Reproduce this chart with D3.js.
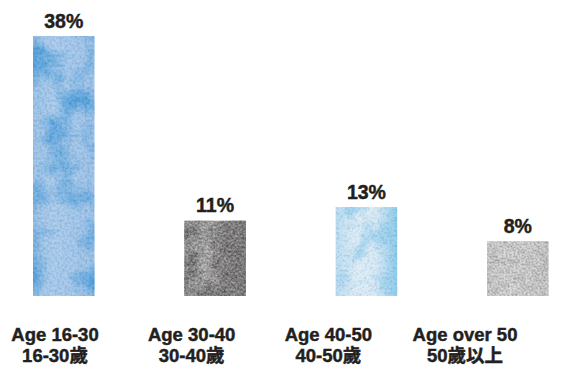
<!DOCTYPE html>
<html>
<head>
<meta charset="utf-8">
<script src="https://cdn.jsdelivr.net/npm/d3@7/dist/d3.min.js"></script>
<style>
  html, body { margin: 0; padding: 0; background: #fff; }
  svg { display: block; }
  text { font-family: "Liberation Sans", Arial, Helvetica, sans-serif; font-weight: bold; fill: #231f20; stroke: #231f20; stroke-width: 0.45px; }
</style>
</head>
<body>
<svg id="chart" width="579" height="369"></svg>
<script>
// Share of respondents by age group
const categories = ["Age 16-30", "Age 30-40", "Age 40-50", "Age over 50"];
const categoriesZh = ["16-30歲", "30-40歲", "40-50歲", "50歲以上"];
const values = [38, 11, 13, 8];

// Watercolour look for each bar: gradient across the bar, a blotchy wash tint and a mottled grain
const barStyles = [
  { stops: ["#97bee4", "#a8c8ea", "#a2c4e8", "#97bde5"], tint: [0.3, 0.61, 0.85], washGain: 3.4, washBias: -1.6, freq: 0.024, seed: 3,
    grain: [0.62, 0.78, 0.93], grainFreq: 0.4, grainAlpha: 0.15 },
  { stops: ["#7d7a7a", "#aaa8a8", "#6f6c6c", "#676565"], tint: [0.36, 0.35, 0.35], washGain: 3.4, washBias: -1.45, freq: 0.07, seed: 7,
    grain: [0.62, 0.62, 0.62], grainFreq: 0.45, grainAlpha: 0.4 },
  { stops: ["#b4d9f1", "#dcebf6", "#d3e7f5", "#7ec3e7"], tint: [0.55, 0.79, 0.92], washGain: 3.0, washBias: -1.4, freq: 0.04, seed: 11,
    grain: [0.8, 0.9, 0.97], grainFreq: 0.4, grainAlpha: 0.15 },
  { stops: ["#c2c2c2", "#cdcdcd", "#c8c8c8", "#bebebe"], tint: [0.7, 0.7, 0.7], washGain: 3.0, washBias: -1.3, freq: 0.12, seed: 5,
    grain: [0.78, 0.78, 0.78], grainFreq: 0.5, grainAlpha: 0.3 }
];

const svg = d3.select("#chart");
const defs = svg.append("defs");

const x = d3.scaleBand().domain(categories).range([33, 548.5]).paddingInner(0.594).paddingOuter(0);
const xLabel = d3.scalePoint().domain(categories).range([55, 465]);
const y = d3.scaleLinear().domain([0, 38]).range([296, 36]);

barStyles.forEach((s, i) => {
  const g = defs.append("linearGradient").attr("id", "grad" + i)
    .attr("x1", "0").attr("x2", "1").attr("y1", "0").attr("y2", "0");
  s.stops.forEach((c, j) => g.append("stop").attr("offset", j / (s.stops.length - 1)).attr("stop-color", c));

  const f = defs.append("filter").attr("id", "wash" + i)
    .attr("x", "0").attr("y", "0").attr("width", "1").attr("height", "1")
    .attr("color-interpolation-filters", "sRGB");
  // broad wash
  f.append("feTurbulence").attr("type", "fractalNoise")
    .attr("baseFrequency", s.freq).attr("numOctaves", 4).attr("seed", s.seed).attr("result", "noise");
  f.append("feColorMatrix").attr("in", "noise").attr("type", "matrix")
    .attr("values", `0 0 0 0 ${s.tint[0]}  0 0 0 0 ${s.tint[1]}  0 0 0 0 ${s.tint[2]}  ${s.washGain} 0 0 0 ${s.washBias}`)
    .attr("result", "tint");
  f.append("feComposite").attr("in", "tint").attr("in2", "SourceGraphic").attr("operator", "in").attr("result", "washed");
  // mottled grain in the bar's own hue, lighter and darker around it
  f.append("feTurbulence").attr("type", "fractalNoise")
    .attr("baseFrequency", s.grainFreq).attr("numOctaves", 3).attr("seed", s.seed + 20).attr("result", "grainNoise");
  f.append("feColorMatrix").attr("in", "grainNoise").attr("type", "matrix")
    .attr("values", `${2 * s.grain[0]} 0 0 0 0  ${2 * s.grain[1]} 0 0 0 0  ${2 * s.grain[2]} 0 0 0 0  0 0 0 0 ${s.grainAlpha}`)
    .attr("result", "grainTint");
  f.append("feComposite").attr("in", "grainTint").attr("in2", "SourceGraphic").attr("operator", "in").attr("result", "grained");
  const m = f.append("feMerge");
  m.append("feMergeNode").attr("in", "SourceGraphic");
  m.append("feMergeNode").attr("in", "washed");
  m.append("feMergeNode").attr("in", "grained");
});

svg.append("g").selectAll("rect")
  .data(values)
  .join("rect")
  .attr("x", (d, i) => x(categories[i]))
  .attr("y", d => y(d))
  .attr("width", x.bandwidth())
  .attr("height", d => y(0) - y(d))
  .attr("fill", (d, i) => `url(#grad${i})`)
  .attr("filter", (d, i) => `url(#wash${i})`);

svg.append("g").selectAll("text")
  .data(values)
  .join("text")
  .attr("x", (d, i) => x(categories[i]) + x.bandwidth() / 2)
  .attr("y", d => y(d) - 8.5)
  .attr("text-anchor", "middle")
  .attr("font-size", 19.5)
  .text(d => d + "%");

const labels = svg.append("g").selectAll("g")
  .data(categories)
  .join("g")
  .attr("transform", d => `translate(${xLabel(d)},0)`);

labels.append("text")
  .attr("y", 341)
  .attr("text-anchor", "middle")
  .attr("font-size", 18.5)
  .text(d => d);

labels.append("text")
  .attr("y", 362)
  .attr("text-anchor", "middle")
  .attr("font-size", 18.5)
  .style("font-family", "'Liberation Sans', 'Noto Sans CJK TC', sans-serif")
  .text((d, i) => categoriesZh[i]);
</script>
</body>
</html>
